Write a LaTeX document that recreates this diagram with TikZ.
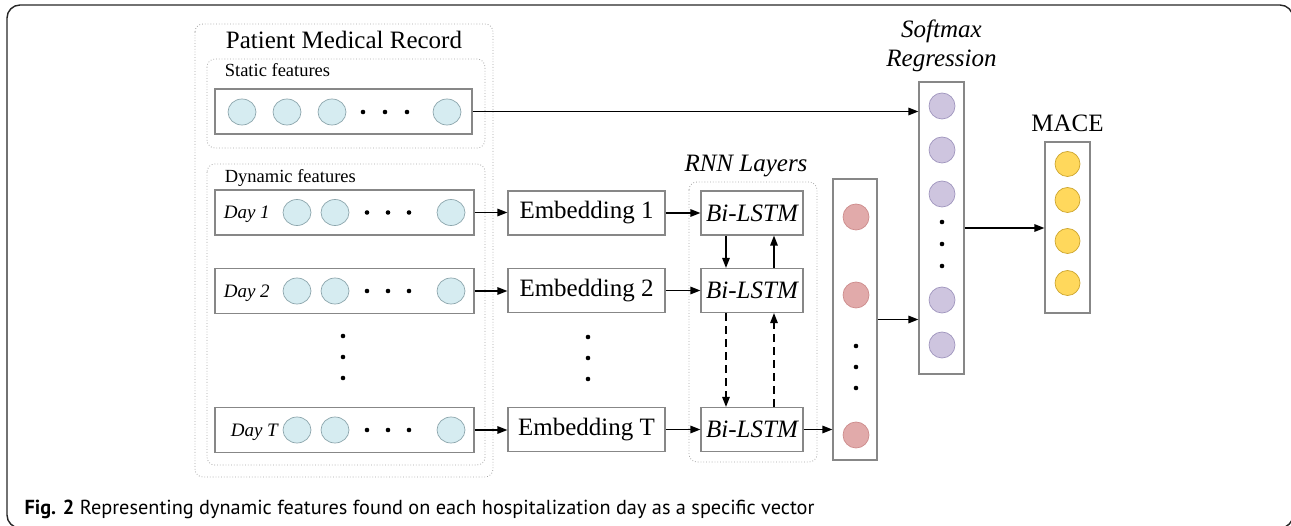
\documentclass[tikz,border=0pt]{standalone}
\usepackage{fontspec}
\setmainfont{Liberation Serif}
\newfontfamily\capfont{PT Sans}
\usetikzlibrary{arrows.meta,shapes.geometric}

\definecolor{boxgray}{RGB}{135,135,135}
\definecolor{grpgray}{RGB}{165,165,165}
\definecolor{bluefill}{RGB}{214,236,241}
\definecolor{blueline}{RGB}{140,165,172}
\definecolor{redfill}{RGB}{225,170,170}
\definecolor{redline}{RGB}{205,140,140}
\definecolor{purplefill}{RGB}{206,197,223}
\definecolor{purpleline}{RGB}{160,150,190}
\definecolor{yellowfill}{RGB}{255,216,92}
\definecolor{yellowline}{RGB}{205,165,45}

\tikzset{
  vecbox/.style={draw=boxgray, line width=1.1pt, inner sep=0pt},
  grpbox/.style={draw=grpgray, dotted, line width=0.8pt, rounded corners=8pt},
  unit/.style={ellipse, line width=0.7pt, minimum width=28pt, minimum height=26pt, inner sep=0pt},
  blueunit/.style={unit, draw=blueline, fill=bluefill},
  redunit/.style={unit, draw=redline, fill=redfill, minimum width=26pt},
  purpleunit/.style={unit, draw=purpleline, fill=purplefill, minimum width=26pt},
  yellowunit/.style={unit, draw=yellowline, fill=yellowfill, minimum width=25pt, minimum height=25pt},
  bigtext/.style={font=\fontsize{25}{28}\selectfont},
  smalltext/.style={font=\fontsize{18.5}{21}\selectfont},
  daytext/.style={font=\fontsize{19}{21}\selectfont\itshape, anchor=base west},
  link/.style={->, line width=1.4pt},
}

\begin{document}
\begin{tikzpicture}[x=1pt, y=-1pt, >={Triangle[length=10pt, width=7.5pt]}, line width=1pt]
    \useasboundingbox (0,0) rectangle (1291,526);
    \begin{scope}
        \clip (0,0) rectangle (1291,526);
        \draw [line width=1.4pt, rounded corners=13pt, black!85] (7,5) rectangle (1293,528);
    \end{scope}

    % patient record
    \draw [grpbox] (195,24) rectangle (493,477);
    \node [bigtext, anchor=base] (title) at (344,49) {Patient Medical Record};

    % static features
    \draw [grpbox] (207,59) rectangle (485,148);
    \node [smalltext, anchor=base west] (statlab) at (221,77) {Static features};
    \node [vecbox, minimum width=257pt, minimum height=45pt] (static) at (343.5,111.5) {};
    \node [blueunit] (s1) at (242,112) {};
    \node [blueunit] (s2) at (287,112) {};
    \node [blueunit] (s3) at (332,112) {};
    \node [blueunit] (s4) at (447,112) {};
    \foreach \x in {363,385,407} \fill (\x,112) circle (2.3pt);

    % dynamic features
    \draw [grpbox] (207,164) rectangle (485,465);
    \node [smalltext, anchor=base west] (dynlab) at (221,183) {Dynamic features};

    \node [vecbox, minimum width=259pt, minimum height=45pt] (day1) at (344.5,212.5) {};
    \node [vecbox, minimum width=259pt, minimum height=45pt] (day2) at (344.5,291) {};
    \node [vecbox, minimum width=259pt, minimum height=45pt] (dayT) at (344.5,430) {};
    \node [daytext] (d1lab) at (220,219) {Day 1};
    \node [daytext] (d2lab) at (220,297.5) {Day 2};
    \node [daytext] (dTlab) at (227,436.5) {Day T};
    \foreach \y/\n in {212.5/1,291/2,430/T} {
        \node [blueunit] (a\n) at (297,\y) {};
        \node [blueunit] (b\n) at (335,\y) {};
        \node [blueunit] (c\n) at (451,\y) {};
        \foreach \x in {367,388,409} \fill (\x,\y) circle (2.3pt);
    }
    \foreach \y in {336,357,378} \fill (343,\y) circle (2.3pt);

    % embeddings
    \node [vecbox, bigtext, minimum width=157pt, minimum height=44pt] (emb1) at (586.5,213) {Embedding 1};
    \node [vecbox, bigtext, minimum width=157pt, minimum height=44pt] (emb2) at (586.5,290.5) {Embedding 2};
    \node [vecbox, bigtext, minimum width=157pt, minimum height=44pt] (embT) at (586.5,429.5) {Embedding T};
    \foreach \y in {337,358,379} \fill (588,\y) circle (2.3pt);

    % rnn layers
    \draw [grpbox] (689,182) rectangle (817,462);
    \node [bigtext, anchor=base] (rnnlab) at (746,172) {\itshape RNN Layers};
    \node [vecbox, bigtext, minimum width=102pt, minimum height=44pt] (lstm1) at (752,213) {\itshape Bi-LSTM};
    \node [vecbox, bigtext, minimum width=102pt, minimum height=44pt] (lstm2) at (752,290.5) {\itshape Bi-LSTM};
    \node [vecbox, bigtext, minimum width=102pt, minimum height=44pt] (lstmT) at (752,429.5) {\itshape Bi-LSTM};

    % hidden vector
    \node [vecbox, minimum width=44pt, minimum height=281pt] (hidden) at (855,319.5) {};
    \node [redunit] (h1) at (856,217) {};
    \node [redunit] (h2) at (856,295) {};
    \node [redunit] (h3) at (856,435) {};
    \foreach \y in {346,367,388} \fill (856,\y) circle (2.3pt);

    % softmax regression
    \node [bigtext, anchor=base] (smlab1) at (941.5,38) {\itshape Softmax};
    \node [bigtext, anchor=base] (smlab2) at (941.5,67) {\itshape Regression};
    \node [vecbox, minimum width=45pt, minimum height=292pt] (softmax) at (941.5,228) {};
    \foreach \y in {106,150,194,300,345} \node [purpleunit] at (942,\y) {};
    \foreach \y in {222,244,266} \fill (942,\y) circle (2.3pt);

    % mace
    \node [bigtext, anchor=base] (macelab) at (1067.5,132) {MACE};
    \node [vecbox, minimum width=45pt, minimum height=171pt] (mace) at (1067.5,227.5) {};
    \foreach \y in {164,200,241,283} \node [yellowunit] at (1067.5,\y) {};

    % connectors
    \draw [link] (static.east) -- (static.east -| softmax.west);
    \draw [link] (day1.east) -- (day1.east -| emb1.west);
    \draw [link] (day2.east) -- (day2.east -| emb2.west);
    \draw [link] (dayT.east) -- (dayT.east -| embT.west);
    \draw [link] (emb1.east) -- (emb1.east -| lstm1.west);
    \draw [link] (emb2.east) -- (emb2.east -| lstm2.west);
    \draw [link] (embT.east) -- (embT.east -| lstmT.west);
    \draw [link] ([xshift=-26pt]lstm1.south) -- ([xshift=-26pt]lstm2.north);
    \draw [link] ([xshift=22pt]lstm2.north) -- ([xshift=22pt]lstm1.south);
    \draw [link, dash pattern=on 8pt off 5pt] ([xshift=-26pt]lstm2.south) -- ([xshift=-26pt]lstmT.north);
    \draw [link, dash pattern=on 8pt off 5pt] ([xshift=22pt]lstmT.north) -- ([xshift=22pt]lstm2.south);
    \draw [link] (lstmT.east) -- (lstmT.east -| hidden.west);
    \draw [link] (hidden.east) -- (hidden.east -| softmax.west);
    \draw [link] (softmax.east) -- (softmax.east -| mace.west);

    % caption
    \node [anchor=base west, font=\capfont\fontsize{20.3}{23}\selectfont, inner sep=0pt] (caption) at (24,514)
        {\textbf{Fig. 2} Representing dynamic features found on each hospitalization day as a specific vector};
\end{tikzpicture}
\end{document}
